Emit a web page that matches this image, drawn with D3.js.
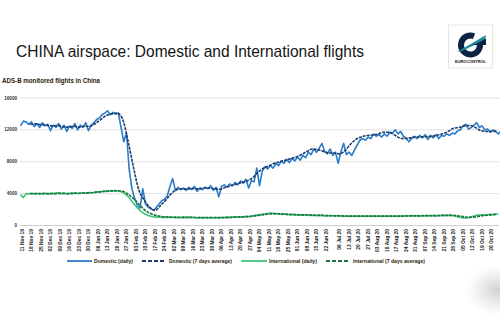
<!DOCTYPE html>
<html><head><meta charset="utf-8">
<script src="https://cdn.jsdelivr.net/npm/d3@7"></script>
<style>body{margin:0;background:#fff}svg{display:block}text{font-family:"Liberation Sans",Arial,sans-serif}</style>
</head><body><div id="c"></div>
<script>
// ---- data ----
const yTicks = [0, 4000, 8000, 12000, 16000];
const xLabels = ["11 Nov 19","18 Nov 19","25 Nov 19","02 Dec 19","09 Dec 19","16 Dec 19","23 Dec 19","30 Dec 19","06 Jan 20","13 Jan 20","20 Jan 20","27 Jan 20","03 Feb 20","10 Feb 20","17 Feb 20","24 Feb 20","02 Mar 20","09 Mar 20","16 Mar 20","23 Mar 20","30 Mar 20","06 Apr 20","13 Apr 20","20 Apr 20","27 Apr 20","04 May 20","11 May 20","18 May 20","25 May 20","01 Jun 20","08 Jun 20","15 Jun 20","22 Jun 20","06 Jul 20","13 Jul 20","20 Jul 20","27 Jul 20","03 Aug 20","10 Aug 20","17 Aug 20","24 Aug 20","31 Aug 20","07 Sep 20","14 Sep 20","21 Sep 20","28 Sep 20","05 Oct 20","12 Oct 20","19 Oct 20","26 Oct 20"];
const firstDay = "2019-11-10", lastDay = "2020-10-31";
const missingDays = ["2020-06-29","2020-06-30","2020-07-01","2020-07-02"];
// daily series: every 2nd category starting at category 0
const domesticDaily = [12500,13100,13000,12700,13000,12400,12800,12300,12900,12500,12700,11900,12600,12300,12800,12100,12600,11800,12500,12200,12800,12000,12600,12300,12900,11900,12600,12900,13300,13500,13900,14100,14400,13900,14200,14000,14100,12300,10500,11600,7000,4600,3400,2500,2200,4600,2700,2300,2100,1900,2300,2700,3100,3300,3700,4900,5900,4400,4800,4500,4700,4400,4800,4500,4900,4300,4700,4500,4800,4600,5000,4400,4800,3600,4900,5100,4800,5200,5000,5400,5100,5600,5300,5800,4700,5600,5500,7200,5000,6800,7400,7100,7500,7200,7800,7500,8100,7800,8300,7900,8400,8100,8600,8200,8800,8500,9200,8900,9600,9200,9700,10300,9300,9000,9600,8800,9200,7800,9300,10300,8900,9200,8800,9500,10100,10700,10900,10700,11100,10900,11500,11200,11400,11100,11500,11200,11700,11600,12000,11500,11800,11200,11000,10500,10900,11200,10900,11300,11000,11400,10800,11300,11000,11400,10900,11300,11200,11500,11300,11600,11500,11900,12000,12500,12700,12100,12300,12600,12900,12300,12500,12000,12100,11700,12000,11800,11500,11900,12100,11600,11900];
const internationalDaily = [3900,3500,4000,3950,4050,4000,4050,3950,4000,4050,3950,4000,4050,4000,4100,4000,4050,3950,4050,4000,4100,4000,4050,4100,4050,4150,4100,4150,4250,4200,4300,4350,4300,4400,4350,4400,4300,4250,4100,3800,3500,3000,2600,2200,1900,1600,1400,1250,1150,1100,1050,1050,1000,1050,1000,1050,1000,1050,1000,1000,1050,1000,1050,1000,1000,950,1000,950,1000,950,1000,950,1000,950,1000,1000,1050,1000,1050,1050,1100,1050,1100,1150,1100,1200,1250,1300,1350,1400,1450,1500,1550,1500,1450,1500,1400,1450,1400,1350,1400,1350,1300,1350,1300,1350,1300,1250,1300,1250,1300,1250,1200,1250,1200,1250,1200,1250,1200,1150,1200,1150,1200,1150,1200,1150,1200,1150,1200,1150,1200,1150,1200,1150,1200,1150,1200,1150,1200,1150,1200,1200,1250,1200,1250,1200,1250,1200,1250,1200,1250,1200,1250,1200,1250,1250,1300,1250,1300,1250,1200,1100,1000,950,950,1000,1100,1200,1300,1300,1350,1300,1350,1400,1350,1450,1450];
// 7-day averages: every 4th category starting at category 7
const domesticAvg = [12700,12750,12650,12600,12500,12550,12400,12350,12450,12350,12450,12450,12800,13300,13800,14000,14100,13400,10700,7400,4500,3200,2300,1900,2500,3200,4000,4500,4600,4600,4650,4600,4700,4700,4600,4550,4800,5000,5200,5400,5600,6000,6700,7200,7500,7800,8000,8200,8400,8600,8900,9300,9600,9500,9300,9100,9100,9000,9400,10200,10800,11100,11300,11350,11450,11700,11700,11400,11000,10900,11000,11100,11100,11150,11200,11350,11500,11800,12200,12300,12500,12550,12300,11900,11800,11800,11850];
const internationalAvg = [4000,3980,4000,4010,4000,4020,4030,4010,4040,4050,4080,4110,4160,4220,4280,4330,4360,4300,3950,3400,2700,2000,1550,1300,1150,1080,1040,1030,1020,1020,1010,990,980,980,980,980,1000,1030,1060,1080,1110,1170,1260,1360,1460,1500,1460,1420,1380,1360,1330,1320,1290,1270,1260,1230,1220,1210,1190,1180,1180,1170,1170,1170,1170,1170,1170,1170,1170,1180,1200,1220,1220,1230,1230,1230,1260,1270,1260,1180,1080,1020,1080,1200,1290,1350,1400];
const seriesNames = ["Domestic (daily)","Domestic (7 days average)","International (daily)","International (7 days average)"];
const seriesColors = ["#2a7cc9","#1b3a6b","#3fc57d","#17773c"];

// ---- chart ----
const W = 500, H = 333;
const svg = d3.select("#c").append("svg").attr("width", W).attr("height", H);
const defs = svg.append("defs");
const rg = defs.append("radialGradient").attr("id","sh");
rg.append("stop").attr("offset","0%").attr("stop-color","#9a9a9a").attr("stop-opacity",0.45);
rg.append("stop").attr("offset","100%").attr("stop-color","#bbbbbb").attr("stop-opacity",0);
svg.append("ellipse").attr("cx",497).attr("cy",290).attr("rx",32).attr("ry",26).attr("fill","url(#sh)");

const parseISO = d3.timeParse("%Y-%m-%d");
const fmtISO = d3.timeFormat("%Y-%m-%d");
const missSet = new Set(missingDays);
const categories = d3.timeDay.range(parseISO(firstDay), d3.timeDay.offset(parseISO(lastDay), 1))
  .filter(d => !missSet.has(fmtISO(d)));
const catIndex = new Map(categories.map((d, i) => [fmtISO(d), i]));

const x = d3.scaleLinear().domain([1, catIndex.get("2020-10-26")]).range([22, 491.6]);
const y = d3.scaleLinear().domain([0, 16000]).range([225.5, 98]);

// title
svg.append("text").attr("x",16).attr("y",56.5).attr("font-size",17).attr("fill","#141414")
  .attr("textLength",348).attr("lengthAdjust","spacingAndGlyphs")
  .text("CHINA airspace: Domestic and International flights");
svg.append("text").attr("x",2).attr("y",83).attr("font-size",6.6).attr("font-weight","bold").attr("fill","#2a1a08")
  .attr("textLength",98).attr("lengthAdjust","spacingAndGlyphs")
  .text("ADS-B monitored flights in China");

// logo
const lg = svg.append("g");
lg.append("rect").attr("x",448.5).attr("y",25).attr("width",44).attr("height",43).attr("fill","#fff").attr("stroke","#e0e0e0").attr("stroke-width",0.8);
const arc = d3.arc().innerRadius(6.5).outerRadius(12.5).startAngle(Math.PI*0.42).endAngle(Math.PI*2.12);
lg.append("path").attr("d", arc()).attr("transform","translate(470.5,45)").attr("fill","#0c2342");
lg.append("path").attr("d","M457,52 L486,35 L485,40 L462,51 Z").attr("fill","#1d8a9c");
lg.append("path").attr("d","M476,44 L486,38.5 L486,45 L472,45 Z").attr("fill","#0c2342");
lg.append("text").attr("x",470.5).attr("y",62.5).attr("text-anchor","middle").attr("font-size",3.6).attr("font-weight","bold")
  .attr("fill","#111").attr("textLength",31).attr("lengthAdjust","spacingAndGlyphs").text("EUROCONTROL");

// grid + y labels
const g = svg.append("g");
g.selectAll("line.grid").data(yTicks).join("line").attr("class","grid")
  .attr("x1",20).attr("x2",499).attr("y1",d=>y(d)).attr("y2",d=>y(d))
  .attr("stroke",d=>d===0?"#c8c8c8":"#dcdcdc").attr("stroke-width",0.9);
g.selectAll("text.yl").data(yTicks).join("text").attr("class","yl")
  .attr("x",17).attr("y",d=>y(d)+1.5).attr("text-anchor","end").attr("font-size",4.6).attr("font-weight","bold").attr("fill","#333")
  .text(d=>d);

// x labels
const parseLab = d3.timeParse("%d %b %y");
g.selectAll("text.xl").data(xLabels).join("text").attr("class","xl")
  .attr("transform", d => `translate(${x(catIndex.get(fmtISO(parseLab(d))))+1.7},229) rotate(-90)`)
  .attr("text-anchor","end").attr("font-size",4.9).attr("font-weight","bold").attr("fill","#222")
  .text(d=>d);

// lines
const dailyPts = arr => arr.map((v,i)=>[2*i, v]);
const avgPts = arr => arr.map((v,i)=>[7+4*i, v]);
const lineL = d3.line().x(d=>x(d[0])).y(d=>y(d[1]));
const lineC = d3.line().x(d=>x(d[0])).y(d=>y(d[1])).curve(d3.curveMonotoneX);
const plot = svg.append("g").attr("fill","none").attr("stroke-linejoin","round");
plot.append("path").attr("d", lineL(dailyPts(domesticDaily))).attr("stroke",seriesColors[0]).attr("stroke-width",1.6);
plot.append("path").attr("d", lineC(avgPts(domesticAvg))).attr("stroke",seriesColors[1]).attr("stroke-width",1.6).attr("stroke-dasharray","3,1");
plot.append("path").attr("d", lineL(dailyPts(internationalDaily))).attr("stroke",seriesColors[2]).attr("stroke-width",1.6);
plot.append("path").attr("d", lineC(avgPts(internationalAvg))).attr("stroke",seriesColors[3]).attr("stroke-width",1.7).attr("stroke-dasharray","3,1");

// legend
const legX = [[67,92,94,39],[142,166,169,63],[241,267,269,48],[326,350,353,72]];
const leg = svg.append("g");
seriesNames.forEach((n,i)=>{
  const [x1,x2,tx,tl] = legX[i];
  leg.append("line").attr("x1",x1).attr("x2",x2).attr("y1",261).attr("y2",261)
    .attr("stroke",seriesColors[i]).attr("stroke-width",1.8).attr("stroke-dasharray", i%2 ? "4,2" : null);
  leg.append("text").attr("x",tx).attr("y",263).attr("font-size",5.6).attr("font-weight","bold").attr("fill","#2a1a08")
    .attr("textLength",tl).attr("lengthAdjust","spacingAndGlyphs").text(n);
});
</script></body></html>
